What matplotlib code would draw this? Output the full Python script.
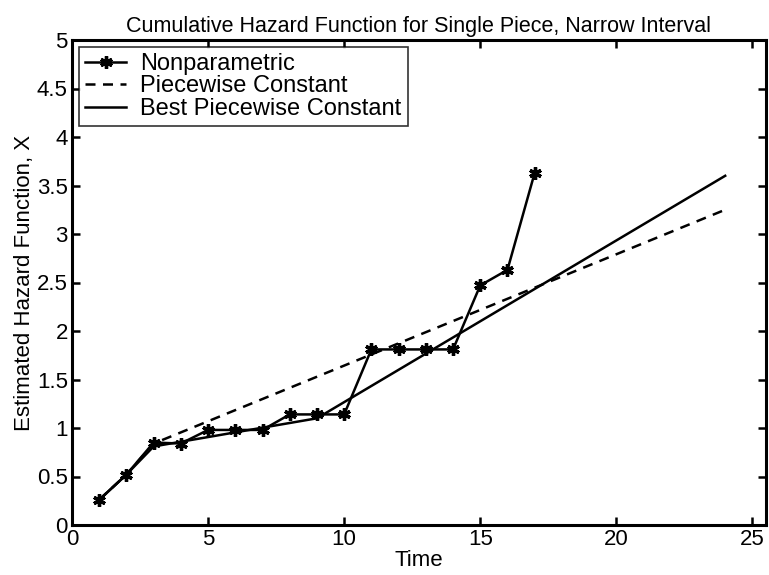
import matplotlib
matplotlib.use("Agg")
import matplotlib.pyplot as plt

plt.rcParams['font.family'] = ['Liberation Sans', 'DejaVu Sans']

# Data
t_np = [1, 2, 3, 4, 5, 6, 7, 8, 9, 10, 11, 12, 13, 14, 15, 16, 17]
h_np = [0.26, 0.52, 0.85, 0.84, 0.98, 0.98, 0.98, 1.14, 1.14, 1.14,
        1.81, 1.81, 1.81, 1.81, 2.47, 2.63, 3.63]

t_pc = [1, 2, 3, 24]
h_pc = [0.26, 0.52, 0.84, 3.25]

t_best = [1, 2, 3, 9, 24]
h_best = [0.26, 0.52, 0.81, 1.10, 3.60]

title = "Cumulative Hazard Function for Single Piece, Narrow Interval"
xlabel = "Time"
ylabel = "Estimated Hazard Function, X"
xticks = [0, 5, 10, 15, 20, 25]
yticks = [0, 0.5, 1, 1.5, 2, 2.5, 3, 3.5, 4, 4.5, 5]
ytick_labels = ["0", "0.5", "1", "1.5", "2", "2.5", "3", "3.5", "4", "4.5", "5"]

W, H = 769, 575
fig = plt.figure(figsize=(W / 100, H / 100), dpi=100)
ax = fig.add_axes([72 / W, (H - 525) / H, (766 - 72) / W, (525 - 40) / H])

lw = 1.8
ax.plot(t_np, h_np, '-', color='black', lw=lw, marker=(6, 2, 0),
        markersize=9, markeredgewidth=2.4, label="Nonparametric")
ax.plot(t_pc, h_pc, '--', color='black', lw=lw, dashes=(4, 3),
        label="Piecewise Constant")
ax.plot(t_best, h_best, '-', color='black', lw=lw, label="Best Piecewise Constant")

ax.set_xlim(0, 25.5)
ax.set_ylim(0, 5)
ax.set_xticks(xticks)
ax.set_yticks(yticks)
ax.set_yticklabels(ytick_labels)
ax.tick_params(direction='in', length=6, width=1.8, top=True, right=True,
               labelsize=16, pad=3)
for s in ax.spines.values():
    s.set_linewidth(2.2)

ax.set_title(title, fontsize=15.5, pad=6)
ax.set_xlabel(xlabel, fontsize=16, labelpad=0)
ax.set_ylabel(ylabel, fontsize=16, labelpad=1)

leg = ax.legend(loc='upper left', fontsize=17, frameon=True, fancybox=False,
                edgecolor='black', borderaxespad=0.3, handlelength=1.75,
                handletextpad=0.6, borderpad=0.25, labelspacing=0.02)
leg.get_frame().set_linewidth(1.2)

fig.savefig("out.png", dpi=100)
